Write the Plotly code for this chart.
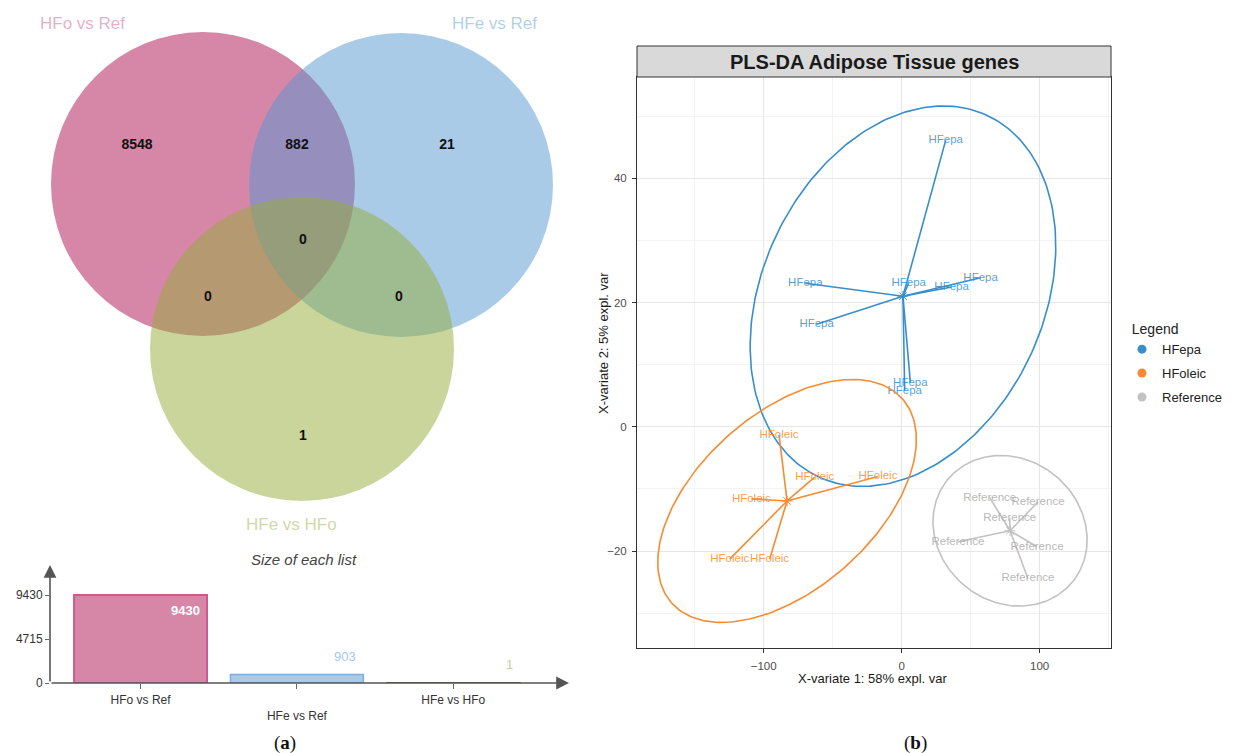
import numpy as np
import plotly.graph_objects as go

# ---------------- data ----------------
set_names = ["HFo vs Ref", "HFe vs Ref", "HFe vs HFo"]
set_sizes = [9430, 903, 1]
bar_ticks = [0, 4715, 9430]
# Venn regions: A only, A&B, B only, A&C, A&B&C, B&C, C only
venn_counts = [8548, 882, 21, 0, 0, 0, 1]

groups = ["HFepa", "HFoleic", "Reference"]
epa_x = [31.9, -69.8, -61.6, 57.2, 36.2, 5.1, 6.3, 2.2]
epa_y = [46.1, 23.1, 16.5, 24.0, 22.5, 23.1, 7.1, 5.8]
oleic_x = [-88.9, -63.0, -17.2, -108.9, -124.6, -95.7]
oleic_y = [-1.3, -8.1, -8.0, -11.6, -21.3, -21.3]
ref_x = [63.8, 98.8, 78.3, 40.8, 98.1, 91.5]
ref_y = [-11.4, -12.1, -14.7, -18.5, -19.3, -24.4]
x_title = "X-variate 1: 58% expl. var"
y_title = "X-variate 2: 5% expl. var"
plot_title = "PLS-DA Adipose Tissue genes"

# ---------------- layout constants ----------------
W, H = 1236, 753
def px(x): return x / W
def py(y): return 1 - y / H

FONT = "Liberation Sans, Arial, sans-serif"
set_fill = ["rgba(173,15,81,0.5)", "rgba(85,151,209,0.5)", "rgba(147,171,55,0.5)"]
set_label_col = ["rgba(214,120,165,0.6)", "rgba(120,175,225,0.6)", "rgba(160,185,90,0.55)"]
bar_fill = ["rgb(214,135,168)", "rgb(170,203,232)", "rgb(201,213,155)"]
bar_line = ["rgb(205,90,140)", "rgb(125,175,222)", "rgb(85,95,55)"]
bar_val_col = ["white", "rgb(165,200,235)", "rgb(195,210,140)"]
grp_col = ["#388ECC", "#F68B33", "#C2C2C2"]
grp_txt = ["rgba(56,142,204,0.85)", "rgba(246,139,51,0.85)", "rgba(175,175,175,0.9)"]

circles = [(203, 184, 152), (401, 185, 152), (302, 349, 152)]
set_label_pos = [(82, 23), (494, 23), (291, 524)]
region_pos = [(137, 145), (297, 145), (447, 145), (208, 297), (303, 240), (399, 297), (303, 436)]

fig = go.Figure()
shapes = []
annotations = []

def ann(**kw):
    kw.setdefault("xanchor", "center")
    kw.setdefault("yanchor", "middle")
    kw.setdefault("showarrow", False)
    annotations.append(kw)

# ---------------- Venn (x2/y2 in pixel units) ----------------
for (cx, cy, r), fc in zip(circles, set_fill):
    shapes.append(dict(type="circle", xref="x2", yref="y2", x0=cx - r, x1=cx + r,
                       y0=cy - r, y1=cy + r, fillcolor=fc, line=dict(width=0), layer="below"))
fig.add_trace(go.Scatter(
    x=[p[0] for p in region_pos], y=[p[1] for p in region_pos],
    text=["<b>%d</b>" % c for c in venn_counts], mode="text",
    textfont=dict(size=14, color="#111", family=FONT),
    xaxis="x2", yaxis="y2", showlegend=False, hoverinfo="skip"))
for name, (lx, ly), col in zip(set_names, set_label_pos, set_label_col):
    ann(x=lx, y=ly, xref="x2", yref="y2", text=name, font=dict(size=17, color=col, family=FONT))

# ---------------- bar chart (x3/y3) ----------------
ymax_bar = 12656
xr = [-0.579, 2.74]
fig.add_trace(go.Bar(
    x=[0, 1, 2], y=set_sizes, width=0.85,
    marker=dict(color=bar_fill, line=dict(color=bar_line, width=[2, 1.5, 2])),
    xaxis="x3", yaxis="y3", showlegend=False, hoverinfo="skip"))
for i, v in enumerate(set_sizes):
    inside = v > 0.5 * max(set_sizes)
    ann(x=i + 0.425, y=v, xref="x3", yref="y3", xanchor="right",
        yanchor="top" if inside else "bottom", xshift=-5, yshift=-6 if inside else 9,
        text=("<b>%d</b>" % v) if inside else str(v),
        font=dict(size=13, color=bar_val_col[i], family=FONT))
# arrow axes
annotations.append(dict(x=xr[1], y=0, ax=xr[0], ay=0, xref="x3", yref="y3", axref="x3", ayref="y3",
                        text="", showarrow=True, arrowhead=2, arrowsize=1.6, arrowwidth=1.6, arrowcolor="#555"))
annotations.append(dict(x=xr[0], y=ymax_bar, ax=xr[0], ay=0, xref="x3", yref="y3", axref="x3", ayref="y3",
                        text="", showarrow=True, arrowhead=2, arrowsize=1.6, arrowwidth=1.6, arrowcolor="#555"))
ann(x=px(304), y=py(559), xref="paper", yref="paper", text="<i>Size of each list</i>",
    font=dict(size=15, color="#444", family=FONT))

# ---------------- PLS-DA ----------------
def conf_ellipse(x, y, n=240):
    x = np.asarray(x, float); y = np.asarray(y, float)
    c = np.cov(x, y)
    t = np.sqrt(5.991464547107979)  # chi-square 95%, 2 df
    vals, vecs = np.linalg.eigh(c)
    th = np.linspace(0, 2 * np.pi, n)
    circ = np.vstack([np.cos(th), np.sin(th)])
    pts = vecs @ (np.sqrt(vals)[:, None] * circ) * t
    return x.mean() + pts[0], y.mean() + pts[1]

gx = [epa_x, oleic_x, ref_x]
gy = [epa_y, oleic_y, ref_y]
for g, xs, ys, col, tcol in zip(groups, gx, gy, grp_col, grp_txt):
    ex, ey = conf_ellipse(xs, ys)
    fig.add_trace(go.Scatter(x=ex, y=ey, mode="lines", line=dict(color=col, width=1.6),
                             showlegend=False, hoverinfo="skip"))
    mx, my = float(np.mean(xs)), float(np.mean(ys))
    lx, ly = [], []
    for a, b in zip(xs, ys):
        lx += [mx, a, None]; ly += [my, b, None]
    fig.add_trace(go.Scatter(x=lx, y=ly, mode="lines", line=dict(color=col, width=1.6),
                             showlegend=False, hoverinfo="skip"))
    fig.add_trace(go.Scatter(x=[mx], y=[my], mode="markers",
                             marker=dict(symbol="asterisk-open", size=9, color=col,
                                         line=dict(color=col, width=1)),
                             showlegend=False, hoverinfo="skip"))
    fig.add_trace(go.Scatter(x=xs, y=ys, mode="text", text=[g] * len(xs),
                             textfont=dict(size=11.5, color=tcol, family=FONT),
                             showlegend=False, hoverinfo="skip"))
for g, col in zip(groups, grp_col):
    fig.add_trace(go.Scatter(x=[None], y=[None], mode="markers", name=g, legendgroup=g,
                             marker=dict(color=col, size=9, symbol="circle")))

# strip + title
shapes.append(dict(type="rect", xref="paper", yref="paper", x0=px(637), x1=px(1111), y0=py(77), y1=py(46),
                   fillcolor="#D9D9D9", line=dict(color="#333", width=1)))
ann(x=px(874), y=py(62), xref="paper", yref="paper", text="<b>%s</b>" % plot_title,
    font=dict(size=20, color="#1A1A1A", family=FONT))
ann(x=px(873), y=py(678), xref="paper", yref="paper", text=x_title,
    font=dict(size=13, color="#1A1A1A", family=FONT))
ann(x=px(603), y=py(343), xref="paper", yref="paper", text=y_title, textangle=-90,
    font=dict(size=13, color="#1A1A1A", family=FONT))
# panel labels
for lab, (lx_, ly_) in zip(["a", "b"], [(285, 743), (915, 743)]):
    ann(x=px(lx_), y=py(ly_), xref="paper", yref="paper", text="(<b>%s</b>)" % lab,
        font=dict(size=19, color="#111", family="Liberation Serif, serif"))

fig.update_layout(
    width=W, height=H, autosize=False, margin=dict(l=0, r=0, t=0, b=0),
    paper_bgcolor="white", plot_bgcolor="white",
    font=dict(family=FONT),
    shapes=shapes, annotations=annotations,
    xaxis=dict(domain=[px(637), px(1111)], range=[-191.8, 151.7], tickvals=[-100, 0, 100],
               showgrid=True, gridcolor="#E6E6E6", gridwidth=1, zeroline=False,
               minor=dict(tickvals=[-150, -50, 50, 150], showgrid=True, gridcolor="#F3F3F3", gridwidth=1),
               showline=True, linecolor="#333", linewidth=1, mirror=True,
               ticks="outside", ticklen=4, tickcolor="#333", ticklabelstandoff=3, automargin=False,
               tickfont=dict(size=11.5, color="#4D4D4D", family=FONT)),
    yaxis=dict(domain=[py(648), py(77)], range=[-35.6, 56.3], tickvals=[-20, 0, 20, 40],
               showgrid=True, gridcolor="#E6E6E6", gridwidth=1, zeroline=False,
               minor=dict(tickvals=[-30, -10, 10, 30, 50], showgrid=True, gridcolor="#F3F3F3", gridwidth=1),
               showline=True, linecolor="#333", linewidth=1, mirror=True,
               ticks="outside", ticklen=4, tickcolor="#333", ticklabelstandoff=3, automargin=False,
               tickfont=dict(size=11.5, color="#4D4D4D", family=FONT)),
    xaxis2=dict(domain=[0, px(600)], range=[0, 600], visible=False, anchor="y2"),
    yaxis2=dict(domain=[py(540), 1], range=[540, 0], visible=False, anchor="x2"),
    xaxis3=dict(domain=[px(50), px(569)], range=xr, anchor="y3",
                tickvals=[0, 1, 2], ticktext=[set_names[0], "<br>" + set_names[1], set_names[2]],
                ticks="outside", ticklen=5, tickcolor="#666", showgrid=False, zeroline=False, showline=False,
                ticklabelstandoff=1, automargin=False,
                tickfont=dict(size=12, color="#333", family=FONT)),
    yaxis3=dict(domain=[py(683), py(565)], range=[0, ymax_bar], anchor="x3",
                tickvals=bar_ticks, ticks="outside", ticklen=4, tickcolor="#666",
                showgrid=False, zeroline=False, showline=False, automargin=False,
                tickfont=dict(size=12, color="#333", family=FONT)),
    legend=dict(x=px(1122), y=py(316), xanchor="left", yanchor="top",
                title=dict(text="&nbsp;&nbsp;Legend", font=dict(size=14, color="#222", family=FONT)),
                font=dict(size=13, color="#222", family=FONT), bgcolor="rgba(0,0,0,0)",
                itemwidth=30, tracegroupgap=4),
    showlegend=True,
)

fig.write_html("out.html")
